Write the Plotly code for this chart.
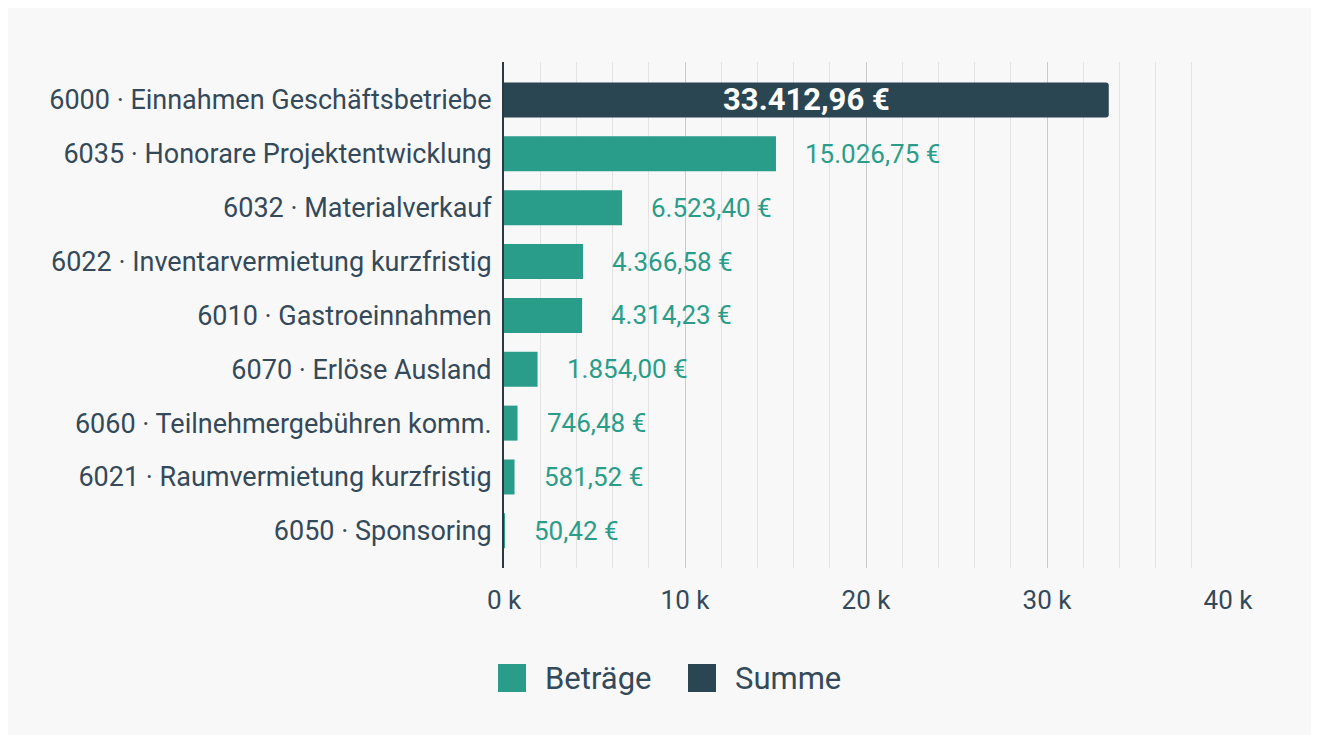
import plotly.graph_objects as go

# ---- data ----
categories = [
    "6000 · Einnahmen Geschäftsbetriebe",
    "6035 · Honorare Projektentwicklung",
    "6032 · Materialverkauf",
    "6022 · Inventarvermietung kurzfristig",
    "6010 · Gastroeinnahmen",
    "6070 · Erlöse Ausland",
    "6060 · Teilnehmergebühren komm.",
    "6021 · Raumvermietung kurzfristig",
    "6050 · Sponsoring",
]
sum_categories = ["6000 · Einnahmen Geschäftsbetriebe"]
sum_values = [33412.96]
part_categories = categories[1:]
part_values = [15026.75, 6523.40, 4366.58, 4314.23, 1854.00, 746.48, 581.52, 50.42]
series_names = ["Beträge", "Summe"]
tick_values = [0, 10000, 20000, 30000, 40000]
tick_labels = ["0 k", "10 k", "20 k", "30 k", "40 k"]

TEAL = "#2a9d8a"
DARK = "#2b4653"
TXT = "#34495a"
FONT = "Roboto"


def eur(v):
    s = f"{v:,.2f}"
    s = s.replace(",", "X").replace(".", ",").replace("X", ".")
    return s + " €"


# page offset of the figure (body margin)
OX, OY = 8, 8
W, H = 1319 - OX, 735 - OY
L = 504 - OX
R = W - (1228 - OX)
T = 62 - OY
B = H - (568 - OY)
pw, ph = W - L - R, H - T - B


def px(x):  # screen x -> paper
    return (x - OX - L) / pw


def py(y):  # screen y -> paper
    return (H - B - (y - OY)) / ph


fig = go.Figure()
fig.add_trace(go.Bar(
    y=part_categories, x=part_values, orientation="h", name=series_names[0],
    marker=dict(color=TEAL, line=dict(width=0)), showlegend=False,
    hoverinfo="skip",
))
fig.add_trace(go.Bar(
    y=sum_categories, x=sum_values, orientation="h", name=series_names[1],
    marker=dict(color=DARK, line=dict(width=0), cornerradius=3), showlegend=False,
    text=[eur(v) for v in sum_values], textposition="inside",
    insidetextanchor="middle", constraintext="none",
    textfont=dict(family=FONT, size=31, color="white", weight="bold"),
    hoverinfo="skip",
))

annotations = []
for c, v in zip(part_categories, part_values):
    annotations.append(dict(
        x=v, y=c, xref="x", yref="y", text=eur(v), showarrow=False,
        xanchor="left", yanchor="middle", xshift=27,
        font=dict(family=FONT, size=26, color=TEAL),
    ))

# manual legend (large square swatches)
legend_items = [(series_names[0], TEAL, 498, 543), (series_names[1], DARK, 688, 733)]
shapes = []
for name, col, sx, tx in legend_items:
    shapes.append(dict(type="rect", xref="paper", yref="paper",
                       x0=px(sx), x1=px(sx + 28), y0=py(692), y1=py(664),
                       fillcolor=col, line=dict(width=0)))
    annotations.append(dict(x=px(tx), y=py(678), xref="paper", yref="paper",
                            text=name, showarrow=False, xanchor="left",
                            yanchor="middle",
                            font=dict(family=FONT, size=31, color=TXT)))

fig.update_layout(
    width=W, height=H,
    margin=dict(l=L, r=R, t=T, b=B, pad=0),
    paper_bgcolor="#f8f8f8", plot_bgcolor="rgba(0,0,0,0)",
    barmode="overlay", bargap=0.35,
    showlegend=False,
    shapes=shapes, annotations=annotations,
    font=dict(family=FONT, size=26, color=TXT),
)
fig.update_xaxes(
    range=[0, 40000], tickvals=tick_values, ticktext=tick_labels,
    showgrid=True, gridcolor="#cbcbcb", gridwidth=1,
    minor=dict(dtick=2000, showgrid=True, gridcolor="#e3e3e3", gridwidth=1),
    zeroline=False, showline=False, ticks="",
    ticklabelstandoff=14,
    tickfont=dict(family=FONT, size=26, color=TXT),
)
fig.update_yaxes(
    type="category", categoryorder="array", categoryarray=categories,
    range=[8.69, -0.705],
    showgrid=False, zeroline=False,
    showline=True, linecolor="#2b3a42", linewidth=2,
    ticks="", ticklabelstandoff=5,
    tickfont=dict(family=FONT, size=27, color=TXT),
)

fig.write_html("out.html")
